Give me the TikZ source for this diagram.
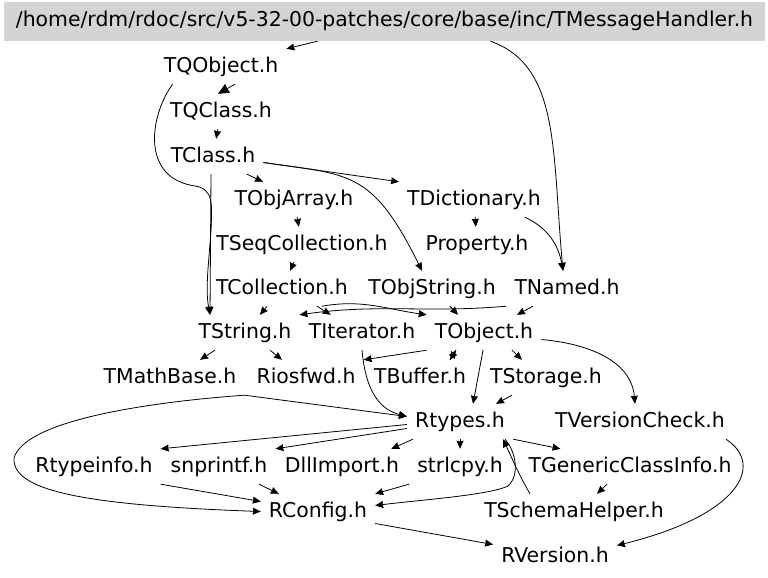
\documentclass[tikz,border=0pt]{standalone}
\usepackage{fontspec}
\setmainfont{DejaVu Sans}
\usepackage{tikz}
\usetikzlibrary{arrows.meta}
\newcommand{\hdrfont}{\fontsize{20.4pt}{24pt}\selectfont}

\begin{document}
\begin{tikzpicture}[
    x=1pt, y=1pt,
    hdr/.style={anchor=base, inner xsep=8pt, inner ysep=8pt, text height=15pt, text depth=4pt, font=\hdrfont},
    titlebox/.style={fill=black!17, inner sep=0pt, minimum width=761pt, minimum height=39pt, text height=15pt, text depth=4.5pt, font=\hdrfont},
    arr/.style={-{Stealth[length=8pt, width=7pt, inset=0.5pt]}, line width=0.8pt},
    bigarr/.style={arr, -{Stealth[length=11pt, width=10pt, inset=0.5pt]}}
]
\useasboundingbox (0,0) rectangle (768,-578);

\node[titlebox] (title) at (384.5,-21.5) {/home/rdm/rdoc/src/v5-32-00-patches/core/base/inc/TMessageHandler.h};

\node[hdr] (tqobject) at (221,-72) {TQObject.h};
\node[hdr] (tqclass) at (221,-117) {TQClass.h};
\node[hdr] (tclass) at (213,-162) {TClass.h};
\node[hdr] (tobjarray) at (294,-205) {TObjArray.h};
\node[hdr] (tdictionary) at (474,-205) {TDictionary.h};
\node[hdr] (tseqcollection) at (302,-250) {TSeqCollection.h};
\node[hdr] (property) at (477,-250) {Property.h};
\node[hdr] (tcollection) at (282,-294) {TCollection.h};
\node[hdr] (tobjstring) at (432,-294) {TObjString.h};
\node[hdr] (tnamed) at (567,-294) {TNamed.h};
\node[hdr] (tstring) at (245,-338) {TString.h};
\node[hdr] (titerator) at (362,-338) {TIterator.h};
\node[hdr] (tobject) at (484,-338) {TObject.h};
\node[hdr] (tmathbase) at (170,-383) {TMathBase.h};
\node[hdr] (riosfwd) at (306,-383) {Riosfwd.h};
\node[hdr] (tbuffer) at (420,-383) {TBuffer.h};
\node[hdr] (tstorage) at (546,-383) {TStorage.h};
\node[hdr] (rtypes) at (460,-427) {Rtypes.h};
\node[hdr] (tversioncheck) at (640,-427) {TVersionCheck.h};
\node[hdr] (rtypeinfo) at (94,-472) {Rtypeinfo.h};
\node[hdr] (snprintf) at (219,-472) {snprintf.h};
\node[hdr] (dllimport) at (342,-472) {DllImport.h};
\node[hdr] (strlcpy) at (460,-472) {strlcpy.h};
\node[hdr] (tgenericclassinfo) at (630,-472) {TGenericClassInfo.h};
\node[hdr] (rconfig) at (318,-517) {RConfig.h};
\node[hdr] (tschemahelper) at (574,-517) {TSchemaHelper.h};
\node[hdr] (rversion) at (555,-562) {RVersion.h};

\draw[arr] ([xshift=-67pt]title.south) -- (tqobject.north east);
\draw[arr] ([xshift=106pt]title.south) .. controls (560,-66) and (552,-150) .. ([xshift=-4pt]tnamed.north);
\draw[bigarr] ([xshift=14pt]tqobject.south) -- ([xshift=-3pt]tqclass.north);
\draw[arr] ([xshift=17pt]tqobject.south west) .. controls (150,-115) and (140,-178) .. (195,-186)
    .. controls (214,-189) and (212,-205) .. (211,-230)
    .. controls (209,-262) and (205,-288) .. ([xshift=-35pt]tstring.north);
\draw[arr] (tqclass) -- (tclass);
\draw[arr] ([xshift=34pt]tclass.south) -- ([xshift=-31pt]tobjarray.north);
\draw[arr] ([yshift=-6pt]tclass.east) -- (tdictionary.north west);
\draw[arr] ([yshift=-6pt]tclass.east) .. controls (350,-175) and (372,-170) .. ([xshift=-10pt]tobjstring.north);
\draw[arr] ([xshift=-2pt]tclass.south) -- ([xshift=-35pt]tstring.north);
\draw[arr] (tobjarray) -- (tseqcollection);
\draw[arr] (tdictionary) -- (property);
\draw[arr] ([xshift=-24pt]tdictionary.south east) to[out=-25, in=100] ([xshift=-4pt]tnamed.north);
\draw[arr] (tseqcollection) -- (tcollection);
\draw[arr] (tcollection) -- (tstring);
\draw[arr] ([xshift=35pt]tcollection.south) -- ([xshift=30pt]titerator.north west);
\draw[arr] ([xshift=40pt]tcollection.south) to[out=10, in=172] (tobject.north west);
\draw[arr] (tnamed.south west) to[out=185, in=8] (tstring.north east);
\draw[arr] ([xshift=18pt]tobjstring.south) -- ([xshift=-26pt]tobject.north);
\draw[arr] ([xshift=-34pt]tnamed.south) -- ([xshift=33pt]tobject.north);
\draw[arr] ([xshift=-30pt]tstring.south) -- ([xshift=30pt]tmathbase.north);
\draw[arr] ([xshift=25pt]tstring.south) -- ([xshift=-24pt]riosfwd.north);
\draw[arr] (tobject.south west) -- (riosfwd.north east);
\draw[arr] ([xshift=-28pt]tobject.south) -- ([xshift=30pt]tbuffer.north);
\draw[arr] ([xshift=30pt]tbuffer.north) -- ([xshift=-28pt]tobject.south);
\draw[arr] ([xshift=28pt]tobject.south) -- ([xshift=-24pt]tstorage.north);
\draw[arr] ([xshift=-1pt]tobject.south) -- ([xshift=13pt]rtypes.north);
\draw[arr] ([xshift=-34pt]tstorage.south) -- ([xshift=36pt]rtypes.north);
\draw[arr] ([yshift=-7pt]tobject.east) to[out=-5, in=95] ([xshift=-5pt]tversioncheck.north);
\draw[arr] (titerator.south) .. controls (366,-395) and (382,-410) .. ([yshift=5pt]rtypes.west);
\draw[arr] (tmathbase.south east) -- ([yshift=5pt]rtypes.west);
\draw[arr] (tmathbase.south east) .. controls (150,-402) and (25,-420) .. (14,-458)
    .. controls (12,-490) and (80,-505) .. (rconfig.west);
\draw[arr] ([yshift=-3pt]rtypes.west) -- (rtypeinfo.north east);
\draw[arr] ([yshift=-7pt]rtypes.west) -- (snprintf.north east);
\draw[arr] ([xshift=6pt]rtypes.south west) -- ([xshift=-16pt]dllimport.north east);
\draw[arr] (rtypes) -- (strlcpy);
\draw[arr] (rtypes.south east) -- ([xshift=40pt]tgenericclassinfo.north west);
\draw[arr] ([xshift=-8pt]rtypes.south east) .. controls (516,-452) and (520,-475) .. (508,-486)
    .. controls (490,-495) and (420,-500) .. ([yshift=6pt]rconfig.east);
\draw[arr] ([xshift=-44pt]tschemahelper.north) to[out=120, in=-65] ([xshift=-10pt]rtypes.south east);
\draw[arr] (rtypeinfo.south east) -- ([yshift=10pt]rconfig.west);
\draw[arr] ([xshift=40pt]snprintf.south) -- ([xshift=18pt]rconfig.north west);
\draw[arr] (strlcpy.south west) -- (rconfig.north east);
\draw[arr] ([xshift=-23pt]tgenericclassinfo.south) -- ([xshift=23pt]tschemahelper.north);
\draw[arr] ([yshift=-12pt]rconfig.east) -- ([yshift=12pt]rversion.west);
\draw[arr] ([xshift=-7pt]tversioncheck.south east) .. controls (765,-465) and (740,-515) .. ([yshift=11pt]rversion.east);
\end{tikzpicture}
\end{document}
